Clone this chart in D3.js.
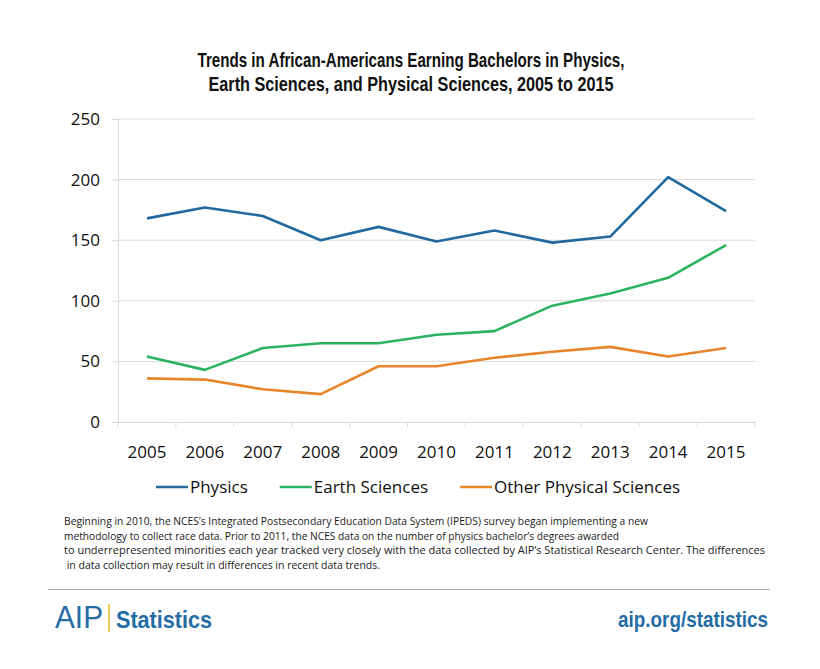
<!DOCTYPE html>
<html>
<head>
<meta charset="utf-8">
<script src="https://cdn.jsdelivr.net/npm/d3@7"></script>
<style>
  html, body { margin: 0; padding: 0; background: #fff; }
  svg { display: block; }
</style>
</head>
<body>
<svg id="chart" width="820" height="669"></svg>
<script>
// ---------- data ----------
const years = ["2005","2006","2007","2008","2009","2010","2011","2012","2013","2014","2015"];
const physics = [168, 177, 170, 150, 161, 149, 158, 148, 153, 202, 174];
const earthSciences = [54, 43, 61, 65, 65, 72, 75, 96, 106, 119, 146];
const otherPhysical = [36, 35, 27, 23, 46, 46, 53, 58, 62, 54, 61];
const seriesNames = ["Physics", "Earth Sciences", "Other Physical Sciences"];
const seriesColors = ["#21699e", "#2bb360", "#e7852c"];
const yTicks = [0, 50, 100, 150, 200, 250];
const titleLines = [
  "Trends in African-Americans Earning Bachelors in Physics,",
  "Earth Sciences, and Physical Sciences, 2005 to 2015"
];
const noteLines = [
  "Beginning in 2010, the NCES\u2019s Integrated Postsecondary Education Data System (IPEDS) survey began implementing a new",
  "methodology to collect race data. Prior to 2011, the NCES data on the number of physics bachelor\u2019s degrees awarded",
  "to underrepresented minorities each year tracked very closely with the data collected by AIP\u2019s Statistical Research Center. The differences",
  " in data collection may result in differences in recent data trends."
];

const series = [physics, earthSciences, otherPhysical].map((vals, i) => ({
  name: seriesNames[i], color: seriesColors[i],
  values: years.map((yr, j) => ({ year: yr, value: vals[j] }))
}));

// ---------- layout ----------
const svg = d3.select("#chart");
const plotLeft = 118, plotRight = 755, plotTop = 119, plotBottom = 422;
const blue = "#236ca4";

const x = d3.scaleBand().domain(years).range([plotLeft, plotRight]);
const y = d3.scaleLinear().domain([0, 250]).range([plotBottom, plotTop]);

// title
const titleWidths = [427, 405];
svg.append("g").selectAll("text").data(titleLines).join("text")
  .attr("x", 411).attr("y", (d, i) => 67 + i * 23.5)
  .attr("text-anchor", "middle")
  .attr("font-family", "'Liberation Sans Narrow', 'Arial Narrow', sans-serif")
  .attr("font-weight", "bold").attr("font-size", 20.5)
  .attr("fill", "#111")
  .attr("textLength", (d, i) => titleWidths[i])
  .attr("lengthAdjust", "spacingAndGlyphs")
  .text(d => d);

// gridlines
svg.append("g").selectAll("line").data(yTicks.filter(t => t > 0)).join("line")
  .attr("x1", plotLeft).attr("x2", plotRight)
  .attr("y1", d => y(d)).attr("y2", d => y(d))
  .attr("stroke", "#d9d9d9").attr("stroke-width", 1);

// y axis
const yAxis = svg.append("g").attr("transform", `translate(${plotLeft},0)`)
  .call(d3.axisLeft(y).tickValues(yTicks).tickSize(6).tickPadding(12));
yAxis.select(".domain").attr("stroke", "#d9d9d9");
yAxis.selectAll(".tick line").attr("stroke", "#d9d9d9");
yAxis.selectAll(".tick text")
  .attr("font-family", "'Open Sans', sans-serif").attr("font-size", 17)
  .attr("fill", "#111");

// x axis
const xAxis = svg.append("g").attr("transform", `translate(0,${plotBottom})`)
  .call(d3.axisBottom(x).tickSize(0).tickPadding(24));
xAxis.select(".domain").attr("stroke", "#d9d9d9");
xAxis.selectAll(".tick text")
  .attr("font-family", "'Open Sans', sans-serif").attr("font-size", 17)
  .attr("fill", "#111");
// boundary ticks between categories
const bounds = years.map(d => x(d)).concat([plotRight]);
svg.append("g").selectAll("line").data(bounds).join("line")
  .attr("x1", d => d).attr("x2", d => d)
  .attr("y1", plotBottom).attr("y2", plotBottom + 5)
  .attr("stroke", "#d9d9d9");

// lines
const line = d3.line()
  .x(d => x(d.year) + x.bandwidth() / 2)
  .y(d => y(d.value));
svg.append("g").selectAll("path").data(series).join("path")
  .attr("d", d => line(d.values))
  .attr("fill", "none")
  .attr("stroke", d => d.color)
  .attr("stroke-width", 2.6)
  .attr("stroke-linejoin", "round");

// legend
const legend = svg.append("g");
const items = legend.selectAll("g").data(series).join("g");
items.append("line").attr("x1", 0).attr("x2", 32).attr("y1", 0).attr("y2", 0)
  .attr("stroke", d => d.color).attr("stroke-width", 2.6);
items.append("text").attr("x", 34).attr("y", 6)
  .attr("font-family", "'Open Sans', sans-serif").attr("font-size", 17)
  .attr("fill", "#111").text(d => d.name);
const legendGap = 32;
let cx = 0;
items.each(function () {
  const g = d3.select(this);
  g.attr("transform", `translate(${cx},0)`);
  cx += this.getBBox().width + legendGap;
});
const legendW = cx - legendGap;
legend.attr("transform", `translate(${418 - legendW / 2},487)`);

// note
const noteWidths = [584, 555, 701, 316];
svg.append("g").selectAll("text").data(noteLines).join("text")
  .attr("x", 64).attr("y", (d, i) => 525 + i * 14.5)
  .attr("font-family", "'Open Sans', sans-serif").attr("font-size", 10.8)
  .attr("fill", "#1a1a1a")
  .attr("xml:space", "preserve")
  .style("white-space", "pre")
  .attr("textLength", (d, i) => noteWidths[i])
  .attr("lengthAdjust", "spacingAndGlyphs")
  .text(d => d);

// footer separator
svg.append("line").attr("x1", 48).attr("x2", 770).attr("y1", 589.5).attr("y2", 589.5)
  .attr("stroke", "#aaaaaa").attr("stroke-width", 1.2);

// footer logo
svg.append("text").attr("x", 55).attr("y", 628)
  .attr("font-family", "'Liberation Sans', Arial, sans-serif").attr("font-size", 31)
  .attr("fill", blue).attr("textLength", 48).attr("lengthAdjust", "spacingAndGlyphs")
  .text("AIP");
svg.append("line").attr("x1", 109).attr("x2", 109).attr("y1", 604).attr("y2", 632)
  .attr("stroke", "#f2c230").attr("stroke-width", 1.6);
svg.append("text").attr("x", 116).attr("y", 627.5)
  .attr("font-family", "'Liberation Sans Narrow', 'Arial Narrow', sans-serif")
  .attr("font-weight", "bold").attr("font-size", 24)
  .attr("fill", blue).attr("textLength", 96).attr("lengthAdjust", "spacingAndGlyphs")
  .text("Statistics");
svg.append("text").attr("x", 768).attr("y", 626.5).attr("text-anchor", "end")
  .attr("font-family", "'Liberation Sans Narrow', 'Arial Narrow', sans-serif")
  .attr("font-weight", "bold").attr("font-size", 22)
  .attr("fill", blue).attr("textLength", 150).attr("lengthAdjust", "spacingAndGlyphs")
  .text("aip.org/statistics");
</script>
</body>
</html>
